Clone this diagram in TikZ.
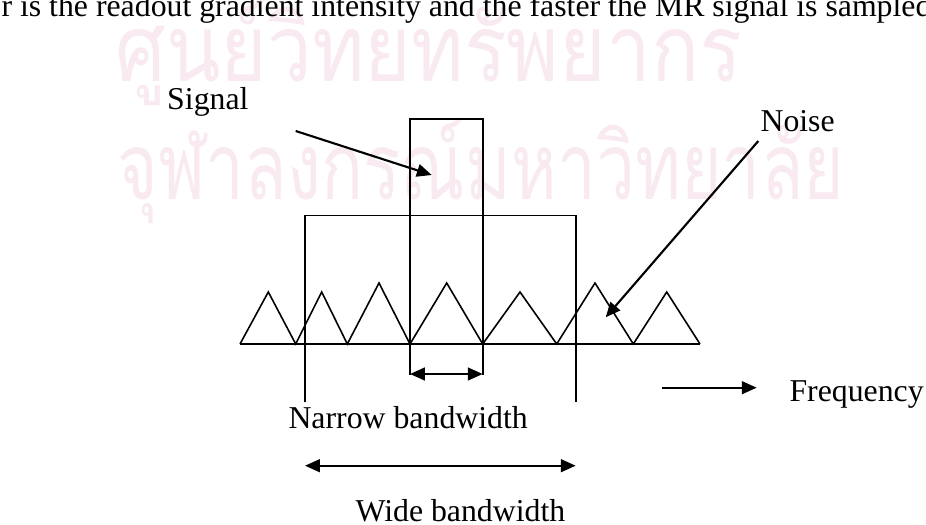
\documentclass[tikz,border=0pt]{standalone}
\usepackage{fontspec}
\setmainfont{Liberation Serif}
\newfontfamily\thaifont[Script=Thai]{Loma}
\usetikzlibrary{arrows.meta}
\definecolor{wasserrosa}{RGB}{249,234,242}

\tikzset{
    linie/.style={line width=0.6pt},
    pfeil/.style={line width=0.8pt, -{Triangle[length=5.6pt,width=4.8pt]}},
    doppelpfeil/.style={line width=0.8pt, {Triangle[length=5.6pt,width=4.8pt]}-{Triangle[length=5.6pt,width=4.8pt]}},
    schrift/.style={anchor=base west, inner sep=0pt, font=\fontsize{12}{14}\selectfont},
    wasser/.style={anchor=base west, inner sep=0pt, text=wasserrosa, font=\thaifont\fontsize{35}{40}\selectfont}
}

\begin{document}
\begin{tikzpicture}[x=0.3774pt, y=-0.3774pt]
    \useasboundingbox (0,0) rectangle (926,525);
    % Wasserzeichen
    \node[wasser] (wm1) at (115,82) {\scalebox{0.86}[1]{ศูนย์วิทยทรัพยากร}};
    \node[wasser] (wm2) at (117,200) {\scalebox{0.75}[1]{จุฬาลงกรณ์มหาวิทยาลัย}};
    \node[schrift] (zeile) at (1,17) {r is the readout gradient intensity and the faster the MR signal is sampled};

    \path coordinate (S1) at (410,375) coordinate (S2) at (410,119)
        coordinate (S3) at (482.7,119) coordinate (S4) at (482.7,375)
        coordinate (W1) at (305,402) coordinate (W2) at (305,215.7)
        coordinate (W3) at (576,215.7) coordinate (W4) at (576,402)
        coordinate (links) at (240,344) coordinate (rechts) at (700,344);

    % Signal und Bandbreite
    \draw[linie] (S1) -- (S2) -- (S3) -- (S4);
    \draw[linie] (W1) -- (W2) -- (W3) -- (W4);
    \draw[linie] (links) -- (rechts);
    % Rauschen
    \draw[linie, line join=miter] (links)
        \foreach \px/\py/\qx in {268.3/292/295.7, 321.7/292/347.3, 379/283/410,
            446.7/283/482.7, 520/292/556.7, 595/283/633.3, 666.7/292/700}
        { -- (\px,\py) -- (\qx,344) };

    \node[schrift] (signal) at (166.7,110) {Signal};
    \node[schrift] (noise) at (760,131.7) {Noise};
    \node[schrift] (narrow) at (288,428) {Narrow bandwidth};
    \node[schrift] (wide) at (355,521.7) {Wide bandwidth};
    \node[schrift] (freq) at (789,401.7) {Frequency};

    \path coordinate (sa) at (295.7,131) coordinate (sb) at (431.7,175)
        coordinate (na) at (758.3,141) coordinate (nb) at (605.7,317.3)
        coordinate (fa) at (662,387.7) coordinate (fb) at (756.7,387.7)
        coordinate (ea) at (410,374) coordinate (eb) at (482.7,374)
        coordinate (ba) at (305,465.7) coordinate (bb) at (575.7,465.7);
    \draw[pfeil] (sa) -- (sb);
    \draw[pfeil] (na) -- (nb);
    \draw[pfeil] (fa) -- (fb);
    \draw[doppelpfeil] (ea) -- (eb);
    \draw[doppelpfeil] (ba) -- (bb);
\end{tikzpicture}
\end{document}
